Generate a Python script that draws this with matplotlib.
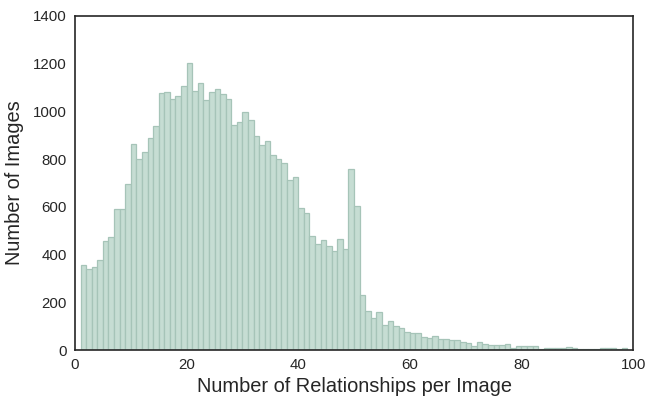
import numpy as np
import matplotlib
matplotlib.use("Agg")
import matplotlib.pyplot as plt

# Histogram of relationships per image (bin left edges 1..98, width 1)
bin_left = list(range(1, 99))
counts = [
    356, 341, 348, 377, 457, 474, 590, 590, 696, 862,
    802, 830, 889, 939, 1077, 1081, 1052, 1065, 1106, 1203,
    1087, 1119, 1048, 1081, 1094, 1073, 1052, 943, 957, 997,
    964, 897, 859, 876, 817, 802, 784, 712, 725, 595,
    574, 478, 444, 461, 436, 415, 465, 423, 759, 604,
    230, 163, 134, 159, 105, 122, 101, 92, 75, 71,
    71, 54, 50, 59, 46, 46, 42, 42, 34, 29,
    17, 34, 24, 20, 20, 20, 24, 8, 15, 15,
    15, 15, 3, 10, 10, 10, 8, 11, 8, 6,
    6, 3, 3, 7, 7, 7, 4, 8,
]
x_ticks = [0, 20, 40, 60, 80, 100]
y_ticks = [0, 200, 400, 600, 800, 1000, 1200, 1400]

plt.rcParams["font.family"] = ["Liberation Sans", "DejaVu Sans"]
text_color = "#262626"

fig = plt.figure(figsize=(6.54, 4.07), dpi=100)
ax = fig.add_axes([0.1147, 0.140, 0.8533, 0.8207])

ax.bar(bin_left, counts, width=1, align="edge",
       facecolor="#c6ddd3", edgecolor="#a6c4b8", linewidth=0.9)

ax.set_xlim(0, 100)
ax.set_ylim(0, 1400)
ax.set_xticks(x_ticks)
ax.set_yticks(y_ticks)
ax.tick_params(length=0, pad=6, labelsize=10.8, colors=text_color)

for sp in ax.spines.values():
    sp.set_color(text_color)
    sp.set_linewidth(1.2)

ax.set_xlabel("Number of Relationships per Image", fontsize=14.4,
              color=text_color, labelpad=3)
ax.set_ylabel("Number of Images", fontsize=14.4, color=text_color,
              labelpad=6)

fig.savefig("out.png", dpi=100)
